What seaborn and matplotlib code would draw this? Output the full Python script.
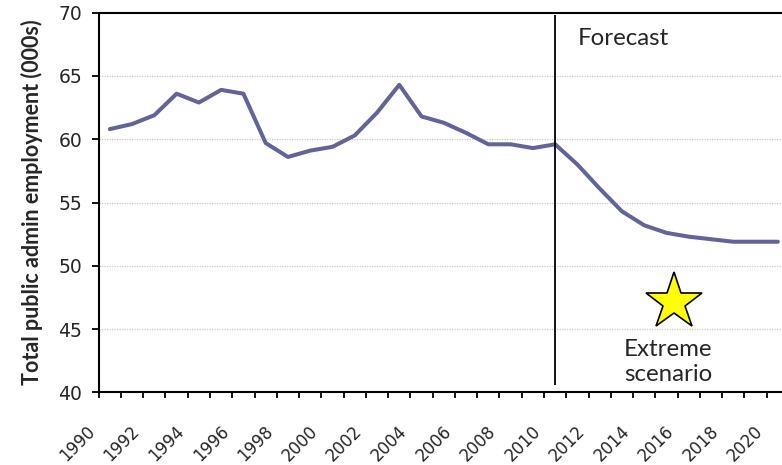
import numpy as np
import pandas as pd
import matplotlib
matplotlib.use("Agg")
import matplotlib.pyplot as plt
import seaborn as sns

# Datos (miles de empleados)
years = list(range(1990, 2021))
employment = [60.8, 61.2, 61.9, 63.6, 62.9, 63.9, 63.6, 59.7, 58.6, 59.1,
              59.4, 60.3, 62.1, 64.3, 61.8, 61.3, 60.5, 59.6, 59.6, 59.3,
              59.6, 58.0, 56.1, 54.3, 53.2, 52.6, 52.3, 52.1, 51.9, 51.9,
              51.9]
forecast_start = 2010
star_year = 2015.33
star_value = 47.1
y_ticks = [40, 45, 50, 55, 60, 65, 70]
x_labels = [str(y) for y in range(1990, 2021, 2)]

df = pd.DataFrame({'year': years, 'employment': employment})

sns.set_style("white")
plt.rcParams['font.family'] = ['DejaVu Sans']

fig = plt.figure(figsize=(7.82, 4.65), dpi=100)
ax = fig.add_axes([0.1262, 0.1563, 0.8827, 0.8164])

# Líneas de cuadrícula punteadas
for v in y_ticks[1:-1]:
    ax.axhline(v, color='#c8c8c8', lw=0.9, ls=(0, (1, 1)), zorder=0)

sns.lineplot(data=df, x='year', y='employment', ax=ax, color='#626398',
             lw=2.9, zorder=3)

ax.vlines(forecast_start, 40.6, 69.8, color='black', lw=1.3, zorder=4)

ax.plot([star_year], [star_value], marker='*', ms=43, mfc='#ffff00',
        mec='black', mew=1.2, ls='none', zorder=5)

ax.text(2011.0, 68.0, 'Forecast', fontsize=17.3, family='Lato',
        ha='left', va='center')
ax.text(2015.06, 42.4, 'Extreme\nscenario', fontsize=17.3, family='Lato',
        ha='center', va='center', linespacing=1.25)

ax.set_xlim(1989.5, 2020.5)
ax.set_ylim(40, 70)
ax.set_yticks(y_ticks)
ax.set_yticklabels([str(v) for v in y_ticks], fontsize=13.5)

# Marcas en los límites de cada categoría
bounds = np.arange(1989.5, 2021, 1)
ax.set_xticks(bounds)
labels = [str(int(b + 0.5)) if int(b + 0.5) % 2 == 0 else '' for b in bounds]
ax.set_xticklabels(labels, rotation=45, ha='right', fontsize=12)
ax.tick_params(axis='x', direction='out', length=4.5, width=1.3, pad=17,
               color='black', bottom=True)
ax.tick_params(axis='y', direction='out', length=5, width=1.3, pad=7,
               color='black', left=True)

ax.set_xlabel('')
ax.set_ylabel('Total public admin employment (000s)', fontsize=15.5,
              fontweight='bold', family='Lato', labelpad=11)

for side in ['left', 'bottom', 'top']:
    ax.spines[side].set_color('black')
    ax.spines[side].set_linewidth(1.5)
ax.spines['right'].set_visible(False)

fig.savefig('out.png', dpi=100)
